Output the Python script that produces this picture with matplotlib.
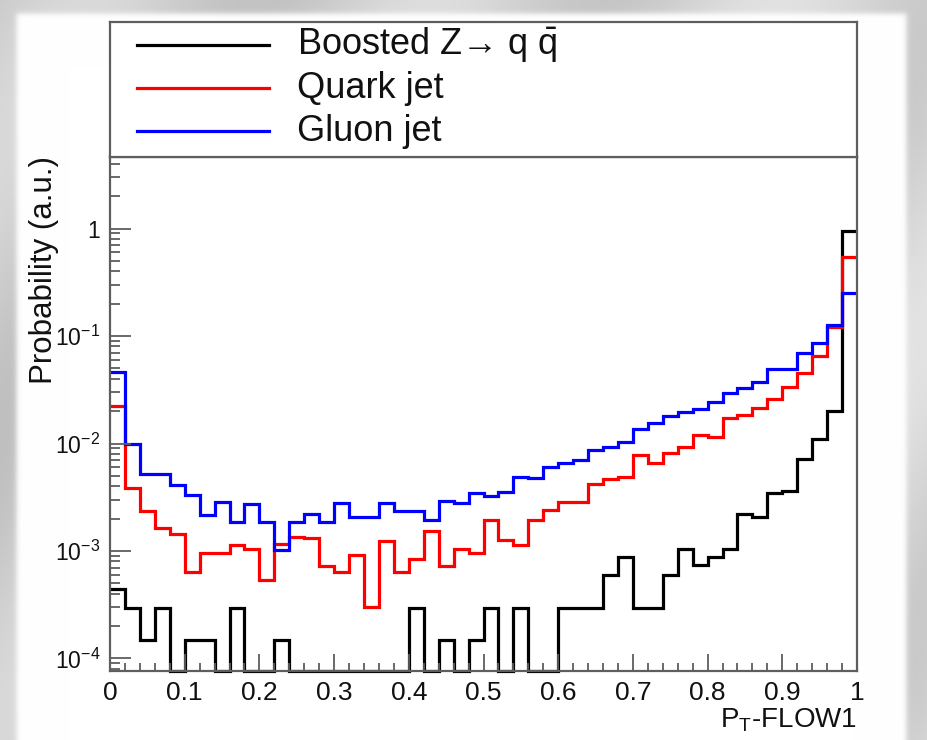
import numpy as np
import matplotlib
matplotlib.use("Agg")
import matplotlib.pyplot as plt
from matplotlib.ticker import FixedLocator, FixedFormatter, NullFormatter

plt.rcParams["font.family"] = ["Liberation Sans", "DejaVu Sans"]
plt.rcParams["mathtext.fontset"] = "custom"
plt.rcParams["mathtext.rm"] = "Liberation Sans"
plt.rcParams["mathtext.it"] = "Liberation Sans:italic"
plt.rcParams["mathtext.bf"] = "Liberation Sans:bold"

# 50 uniform bins of P_T-FLOW1 between 0 and 1
bin_edges = np.linspace(0.0, 1.0, 51)

boosted_z = [
    4.44e-4, 2.96e-4, 1.48e-4, 2.96e-4, 0.0, 1.48e-4, 1.48e-4, 0.0, 2.96e-4, 0.0,
    0.0, 1.48e-4, 0.0, 0.0, 0.0, 0.0, 0.0, 0.0, 0.0, 0.0,
    2.96e-4, 0.0, 1.48e-4, 0.0, 1.48e-4, 2.96e-4, 0.0, 2.96e-4, 0.0, 0.0,
    2.96e-4, 2.96e-4, 2.96e-4, 5.92e-4, 8.88e-4, 2.96e-4, 2.96e-4, 5.92e-4, 1.04e-3, 7.4e-4,
    8.88e-4, 1.04e-3, 2.22e-3, 2.07e-3, 3.49e-3, 3.61e-3, 7.13e-3, 1.094e-2, 2.0e-2, 0.955,
]

quark_jet = [
    0.0225, 0.00383, 0.00237, 0.00163, 0.00144, 0.000634, 0.00095, 0.00095, 0.00114, 0.00104,
    0.00054, 0.00116, 0.00134, 0.00131, 0.00073, 0.000634, 0.00092, 0.000303, 0.00124, 0.000634,
    0.00084, 0.00153, 0.00073, 0.00104, 0.00095, 0.00194, 0.00127, 0.00114, 0.00194, 0.0024,
    0.00288, 0.00288, 0.0042, 0.00465, 0.00491, 0.00782, 0.00663, 0.0081, 0.0093, 0.012,
    0.0116, 0.0172, 0.0184, 0.0212, 0.0258, 0.0338, 0.0456, 0.0655, 0.121, 0.54,
]

gluon_jet = [
    0.046, 0.0099, 0.0052, 0.0052, 0.0041, 0.0033, 0.00216, 0.00288, 0.00187, 0.00274,
    0.00187, 0.00102, 0.00187, 0.00221, 0.00187, 0.00278, 0.00209, 0.00209, 0.00278, 0.00237,
    0.00237, 0.00194, 0.00294, 0.00278, 0.00349, 0.00325, 0.00356, 0.00491, 0.00474, 0.00608,
    0.00654, 0.00703, 0.0087, 0.00934, 0.0104, 0.0136, 0.0156, 0.0182, 0.0198, 0.0208,
    0.0245, 0.0293, 0.0326, 0.0376, 0.0493, 0.0493, 0.069, 0.0855, 0.1265, 0.253,
]

series_labels = ["Boosted Z\u2192 q $\\bar{\\mathrm{q}}$", "Quark jet", "Gluon jet"]
series_colors = ["#000000", "#ff0000", "#0000ff"]

x_ticks = [0.0, 0.1, 0.2, 0.3, 0.4, 0.5, 0.6, 0.7, 0.8, 0.9, 1.0]
x_tick_labels = ["0", "0.1", "0.2", "0.3", "0.4", "0.5", "0.6", "0.7", "0.8", "0.9", "1"]
y_ticks = [1e-4, 1e-3, 1e-2, 1e-1, 1.0]
y_tick_labels = [r"$\mathregular{10^{-4}}$", r"$\mathregular{10^{-3}}$",
                 r"$\mathregular{10^{-2}}$", r"$\mathregular{10^{-1}}$", "1"]
x_title = r"P$_{\mathregular{T}}$-FLOW1"
y_title = "Probability (a.u.)"

W, H = 927, 740
fig = plt.figure(figsize=(W / 100, H / 100), dpi=100)

# soft grey slide background with a white canvas
bg = fig.add_axes([0, 0, 1, 1], zorder=-10)
yy, xx = np.mgrid[0:H, 0:W].astype(float)
grey = 0.80 + 0.05 * np.sin((xx + 0.6 * yy) / 55.0) + 0.04 * (xx / W)
mx = 0.5 * (1 + np.tanh((xx - 16) / 3.0)) * 0.5 * (1 + np.tanh((906 - xx) / 3.0))
my = 0.5 * (1 + np.tanh((yy - 13) / 3.0))
m = mx * my
img = grey * (1 - m) + 1.0 * m
bg.imshow(np.dstack([img, img, img]), extent=[0, W, H, 0], aspect="auto",
          interpolation="bilinear")
bg.set_xlim(0, W)
bg.set_ylim(H, 0)
bg.axis("off")

frame_color = "#5e5e5e"
x0, x1 = 110 / W, 857 / W
ybot, ytop = 1 - 671 / H, 1 - 157 / H
ax = fig.add_axes([x0, ybot, x1 - x0, ytop - ybot])
ax.set_yscale("log")
ymin, ymax = 7.65e-5, 4.63
ax.set_xlim(0, 1)
ax.set_ylim(ymin, ymax)

for vals, col in zip([boosted_z, quark_jet, gluon_jet], series_colors):
    v = np.asarray(vals, dtype=float)
    v = np.where(v > 0, v, ymin)
    ax.stairs(v, bin_edges, baseline=None, color=col, linewidth=2.3, clip_on=False)

for sp in ax.spines.values():
    sp.set_color(frame_color)
    sp.set_linewidth(1.6)

ax.xaxis.set_major_locator(FixedLocator(x_ticks))
ax.xaxis.set_major_formatter(FixedFormatter(x_tick_labels))
ax.xaxis.set_minor_locator(FixedLocator(np.arange(0, 1.0001, 0.02)))
ax.yaxis.set_major_locator(FixedLocator(y_ticks))
ax.yaxis.set_major_formatter(FixedFormatter(y_tick_labels))
minor_y = [k * 10.0 ** e for e in range(-5, 1) for k in range(2, 10)]
minor_y = [t for t in minor_y if ymin <= t <= ymax]
ax.yaxis.set_minor_locator(FixedLocator(minor_y))
ax.yaxis.set_minor_formatter(NullFormatter())

ax.tick_params(axis="both", which="both", direction="in", color=frame_color,
               width=1.3, top=False, right=False, labelcolor="#111111")
ax.tick_params(axis="x", which="major", length=12, pad=7, labelsize=19)
ax.tick_params(axis="x", which="minor", length=6)
ax.tick_params(axis="y", which="major", length=15, pad=7, labelsize=16.5)
ax.tick_params(axis="y", which="minor", length=7.5)

fig.text(857 / W, 1 - 728 / H, x_title, ha="right", va="baseline", fontsize=20,
         color="#111111")
fig.text(44 / W, 1 - 156 / H, y_title, ha="center", va="top", rotation=90,
         fontsize=22.5, color="#111111")

# legend box above the frame
lg = fig.add_axes([x0, ytop, x1 - x0, (1 - 22 / H) - ytop])
lg.set_xlim(0, 1)
lg.set_ylim(0, 1)
lg.set_xticks([])
lg.set_yticks([])
for sp in lg.spines.values():
    sp.set_color(frame_color)
    sp.set_linewidth(1.6)
row_y = [0.83, 0.51, 0.19]
for lab, col, ry in zip(series_labels, series_colors, row_y):
    lg.plot([0.036, 0.213], [ry, ry], color=col, linewidth=2.3)
    lg.text(0.25, ry, lab, ha="left", va="center", fontsize=26, color="#111111")

fig.savefig("out.png", dpi=100)
